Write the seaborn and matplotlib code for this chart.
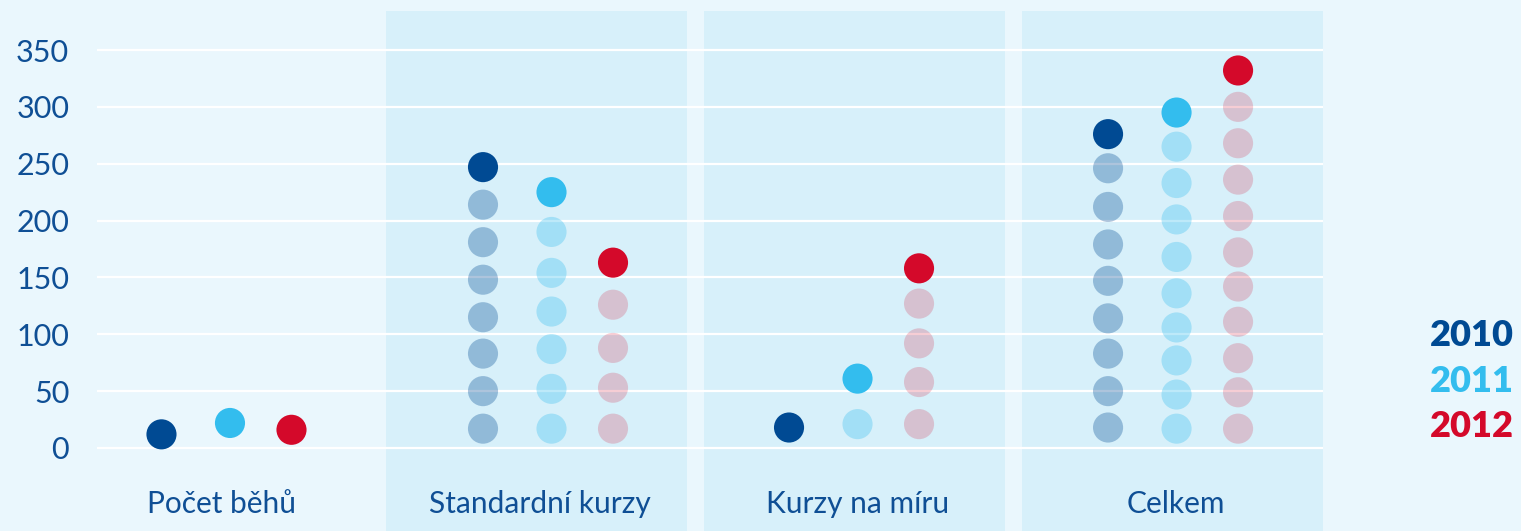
import numpy as np
import pandas as pd
import matplotlib.pyplot as plt
import seaborn as sns

# ----------------------------
# data
# ----------------------------
categories = ["Počet běhů", "Standardní kurzy", "Kurzy na míru", "Celkem"]
years = ["2010", "2011", "2012"]

values_2010 = [12, 247, 18, 276]
values_2011 = [22, 225, 61, 295]
values_2012 = [16, 163, 158, 332]

# faded dots below the top dot (per category)
faded_2010 = [[], [214, 181, 148, 115, 83, 50, 17], [], [246, 212, 179, 147, 114, 83, 50, 18]]
faded_2011 = [[], [190, 154, 120, 87, 52, 17], [21], [265, 233, 201, 168, 136, 106, 77, 47, 17]]
faded_2012 = [[], [126, 88, 53, 17], [127, 92, 58, 21], [300, 268, 236, 204, 172, 142, 111, 79, 49, 17]]

yticks = [0, 50, 100, 150, 200, 250, 300, 350]

# ----------------------------
# styles / layout
# ----------------------------
colors = {"2010": "#004a93", "2011": "#33bdee", "2012": "#d4092a"}
faded_alpha = {"2010": 0.32, "2011": 0.32, "2012": 0.2}
bg = "#eaf7fd"
panel = "#d7f0fa"
text_col = "#0f4f95"

# x offsets of the three year columns inside each category (px / 318)
offsets = np.array([[-57, 11.5, 73],
                    [-53.5, 15, 76.5],
                    [-65.5, 3, 64.5],
                    [-64.5, 4, 65.5]]) / 318.0

tops = {"2010": values_2010, "2011": values_2011, "2012": values_2012}
fades = {"2010": faded_2010, "2011": faded_2011, "2012": faded_2012}

rows_top = []
rows_fade = []
for j, y in enumerate(years):
    for i, cat in enumerate(categories):
        x = i + offsets[i, j]
        rows_top.append({"x": x, "hodnota": tops[y][i], "rok": y})
        for v in fades[y][i]:
            rows_fade.append({"x": x, "hodnota": v, "rok": y})

df_top = pd.DataFrame(rows_top)
df_fade = pd.DataFrame(rows_fade)

sns.set_style("white")
plt.rcParams["font.family"] = ["Lato", "DejaVu Sans"]

fig = plt.figure(figsize=(15.21, 5.31), dpi=100, facecolor=bg)
ax = fig.add_axes([97 / 1521, 0, (1322.5 - 97) / 1521, (531 - 11) / 531])
ax.set_facecolor(bg)

# panels behind categories 2-4
for i in range(1, len(categories)):
    ax.axvspan(i - 0.473, i + 0.473, color=panel, lw=0, zorder=0)

# gridlines
for t in yticks:
    ax.axhline(t, color="white", lw=1.6, zorder=1)

# faded dots
for y in years:
    sub = df_fade[df_fade["rok"] == y]
    sns.scatterplot(data=sub, x="x", y="hodnota", color=colors[y], s=470,
                    alpha=faded_alpha[y], edgecolor="none", legend=False,
                    ax=ax, zorder=2)

# top dots
sns.scatterplot(data=df_top, x="x", y="hodnota", hue="rok", palette=colors,
                s=470, edgecolor="none", legend=False, ax=ax, zorder=3)

ax.set_xlim(-0.382, 3.4715)
ax.set_ylim(-73.0, 384.3)

ax.set_yticks(yticks)
ax.set_yticklabels([str(t) for t in yticks])
ax.tick_params(axis="y", length=0, pad=20, labelsize=22, labelcolor=text_col)
ax.set_xticks([])
ax.set_xlabel("")
ax.set_ylabel("")
for s in ax.spines.values():
    s.set_visible(False)

# category labels
for i, cat in enumerate(categories):
    ax.text(i + 0.01, -49, cat, ha="center", va="center", fontsize=21.5, color=text_col)

# legend as coloured years
for y, py in zip(years, [335, 381.5, 426.5]):
    fig.text(1430 / 1521, 1 - py / 531, y, ha="left", va="center",
             fontsize=26, fontweight="heavy", color=colors[y])

plt.savefig("out.png", dpi=100, facecolor=bg)
